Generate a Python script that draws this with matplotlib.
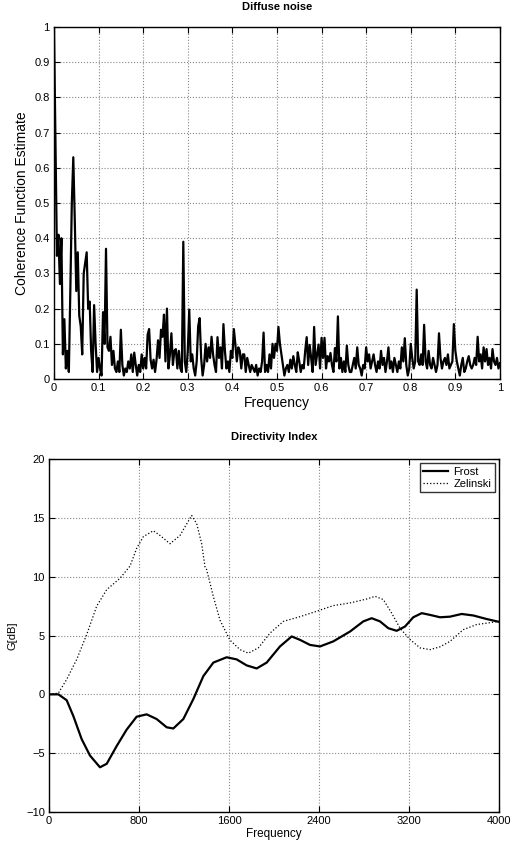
import numpy as np
import matplotlib
matplotlib.use("Agg")
import matplotlib.pyplot as plt

plt.rcParams['font.family'] = ['Liberation Sans', 'DejaVu Sans']

# coherence estimate, 301 bins over normalised frequency 0..1
coherence = [
    1.00, 0.67, 0.35, 0.41, 0.27, 0.40, 0.07, 0.17, 0.03, 0.08,
    0.02, 0.25, 0.50, 0.63, 0.45, 0.25, 0.36, 0.18, 0.15, 0.07,
    0.30, 0.33, 0.36, 0.20, 0.22, 0.08, 0.02, 0.21, 0.10, 0.02,
    0.06, 0.03, 0.01, 0.19, 0.10, 0.37, 0.09, 0.08, 0.12, 0.04,
    0.08, 0.03, 0.02, 0.05, 0.02, 0.14, 0.04, 0.01, 0.03, 0.02,
    0.05, 0.03, 0.07, 0.02, 0.075, 0.04, 0.01, 0.04, 0.02, 0.07,
    0.03, 0.06, 0.03, 0.126, 0.142, 0.055, 0.03, 0.055, 0.02, 0.055,
    0.11, 0.06, 0.14, 0.12, 0.183, 0.05, 0.20, 0.03, 0.07, 0.13,
    0.04, 0.08, 0.085, 0.03, 0.08, 0.03, 0.02, 0.39, 0.05, 0.02,
    0.08, 0.197, 0.05, 0.07, 0.03, 0.01, 0.05, 0.15, 0.173, 0.06,
    0.01, 0.04, 0.10, 0.05, 0.09, 0.06, 0.12, 0.07, 0.04, 0.02,
    0.119, 0.06, 0.09, 0.03, 0.156, 0.08, 0.03, 0.05, 0.02, 0.08,
    0.06, 0.142, 0.10, 0.05, 0.09, 0.08, 0.03, 0.07, 0.07, 0.02,
    0.06, 0.04, 0.02, 0.04, 0.03, 0.02, 0.04, 0.01, 0.03, 0.02,
    0.05, 0.132, 0.02, 0.04, 0.02, 0.07, 0.03, 0.10, 0.06, 0.10,
    0.08, 0.148, 0.10, 0.07, 0.04, 0.01, 0.03, 0.04, 0.02, 0.055,
    0.03, 0.065, 0.04, 0.02, 0.076, 0.05, 0.02, 0.04, 0.03, 0.08,
    0.119, 0.04, 0.097, 0.06, 0.02, 0.148, 0.04, 0.07, 0.098, 0.03,
    0.117, 0.06, 0.117, 0.03, 0.065, 0.05, 0.074, 0.04, 0.02, 0.088,
    0.05, 0.178, 0.03, 0.06, 0.02, 0.05, 0.02, 0.095, 0.04, 0.02,
    0.02, 0.04, 0.06, 0.03, 0.09, 0.04, 0.03, 0.01, 0.04, 0.03,
    0.09, 0.05, 0.07, 0.03, 0.05, 0.07, 0.04, 0.02, 0.05, 0.03,
    0.08, 0.04, 0.06, 0.02, 0.05, 0.09, 0.03, 0.05, 0.02, 0.06,
    0.04, 0.02, 0.05, 0.03, 0.09, 0.05, 0.116, 0.04, 0.01, 0.03,
    0.10, 0.06, 0.03, 0.05, 0.254, 0.05, 0.04, 0.07, 0.04, 0.154,
    0.05, 0.03, 0.08, 0.04, 0.03, 0.06, 0.04, 0.02, 0.04, 0.13,
    0.06, 0.03, 0.05, 0.06, 0.04, 0.07, 0.03, 0.04, 0.05, 0.156,
    0.08, 0.05, 0.03, 0.01, 0.04, 0.06, 0.02, 0.03, 0.05, 0.065,
    0.04, 0.03, 0.04, 0.06, 0.04, 0.12, 0.05, 0.07, 0.03, 0.09,
    0.05, 0.085, 0.04, 0.06, 0.03, 0.085, 0.05, 0.04, 0.06, 0.03, 0.045,
]
norm_freq = np.linspace(0, 1, len(coherence))

# directivity index (dB)
frost_f = [0, 83, 157, 216, 290, 364, 453, 513, 601, 690, 779, 868, 957, 1046,
           1105, 1194, 1283, 1372, 1461, 1579, 1668, 1757, 1846, 1935, 2053,
           2157, 2231, 2320, 2409, 2527, 2676, 2794, 2868, 2942, 3016, 3090,
           3164, 3238, 3313, 3387, 3476, 3564, 3668, 3772, 3890, 4000]
frost_g = [0, 0, -0.5, -1.84, -3.8, -5.2, -6.2, -5.9, -4.4, -3.0, -1.9, -1.7,
           -2.1, -2.8, -2.9, -2.1, -0.4, 1.55, 2.7, 3.15, 2.97, 2.46, 2.2, 2.7,
           4.07, 4.92, 4.63, 4.2, 4.07, 4.5, 5.34, 6.2, 6.47, 6.2, 5.62, 5.4,
           5.76, 6.55, 6.9, 6.75, 6.55, 6.6, 6.83, 6.7, 6.4, 6.16]

zel_f = [0, 83, 157, 246, 335, 424, 513, 631, 720, 779, 838, 927, 987, 1076,
         1164, 1268, 1313, 1357, 1387, 1401, 1461, 1520, 1609, 1698, 1772, 1861,
         1964, 2083, 2231, 2379, 2527, 2676, 2824, 2898, 2972, 3046, 3120, 3209,
         3298, 3387, 3476, 3564, 3683, 3801, 4000]
zel_g = [0, 0.1, 1.27, 2.97, 5.08, 7.5, 8.9, 9.86, 10.9, 12.4, 13.4, 13.9, 13.5,
         12.8, 13.5, 15.2, 14.5, 12.8, 10.8, 10.6, 8.3, 6.3, 4.6, 3.8, 3.5, 3.95,
         5.2, 6.2, 6.6, 7.06, 7.54, 7.77, 8.1, 8.33, 8.05, 6.9, 5.62, 4.66, 3.95,
         3.8, 4.04, 4.5, 5.5, 5.93, 6.2]

fig = plt.figure(figsize=(5.17, 8.47), dpi=100)

# --- top: coherence ---
ax1 = fig.add_axes([0.1044, 0.5525, 0.8626, 0.4156])
ax1.plot(norm_freq, coherence, 'k-', lw=1.6)
ax1.set_xlim(0, 1)
ax1.set_ylim(0, 1)
ax1.set_xticks(np.arange(0, 1.01, 0.1))
ax1.set_yticks(np.arange(0, 1.01, 0.1))
ax1.set_xticklabels(['0', '0.1', '0.2', '0.3', '0.4', '0.5', '0.6', '0.7', '0.8', '0.9', '1'])
ax1.set_yticklabels(['0', '0.1', '0.2', '0.3', '0.4', '0.5', '0.6', '0.7', '0.8', '0.9', '1'])
ax1.set_title('Diffuse noise', fontsize=8, fontweight='bold', pad=12)
ax1.set_xlabel('Frequency', fontsize=10, labelpad=2)
ax1.set_ylabel('Coherence Function Estimate', fontsize=10, labelpad=4)

# --- bottom: directivity index ---
ax2 = fig.add_axes([0.0948, 0.0413, 0.8704, 0.4168])
ax2.plot(frost_f, frost_g, 'k-', lw=1.6, label='Frost')
ax2.plot(zel_f, zel_g, 'k:', lw=0.9, label='Zelinski')
ax2.set_xlim(0, 4000)
ax2.set_ylim(-10, 20)
ax2.set_xticks([0, 800, 1600, 2400, 3200, 4000])
ax2.set_yticks([-10, -5, 0, 5, 10, 15, 20])
ax2.set_yticklabels(['\u221210', '\u22125', '0', '5', '10', '15', '20'])
ax2.set_title('Directivity Index', fontsize=8, fontweight='bold', pad=14)
ax2.set_xlabel('Frequency', fontsize=8.5, labelpad=1)
ax2.set_ylabel('G[dB]', fontsize=8, labelpad=6)
leg = ax2.legend(loc='upper right', fontsize=8, frameon=True, fancybox=False,
                 borderaxespad=0.4, handlelength=2.2, borderpad=0.3,
                 labelspacing=0.2, handletextpad=0.5)
leg.get_frame().set_edgecolor('black')
leg.get_frame().set_linewidth(1.0)

for ax, fs in ((ax1, 8), (ax2, 8)):
    ax.grid(True, linestyle=':', color='#888888', lw=0.8)
    ax.tick_params(direction='in', top=True, right=True, length=4,
                   labelsize=fs, width=0.8, pad=3)
    for sp in ax.spines.values():
        sp.set_linewidth(1.0)

fig.savefig('out.png', dpi=100)
